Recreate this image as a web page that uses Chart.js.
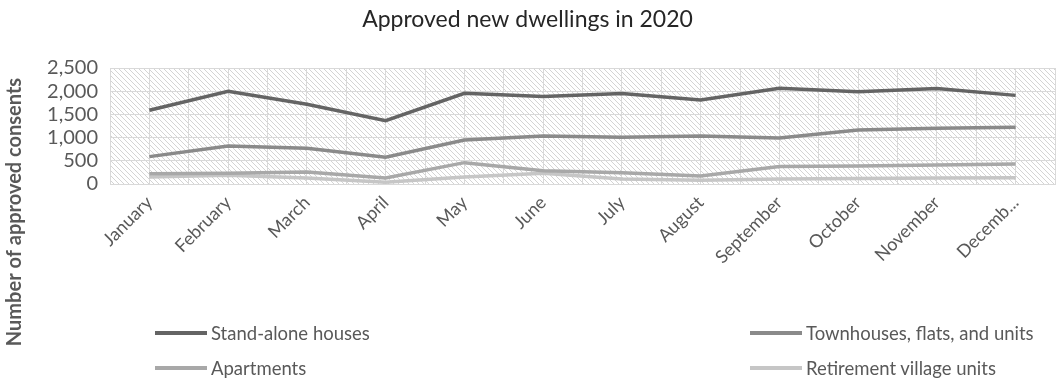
<!DOCTYPE html>
<html>
<head>
<meta charset="utf-8">
<title>Approved new dwellings in 2020</title>
<script src="https://cdn.jsdelivr.net/npm/chart.js"></script>
<style>
  body { margin: 0; background: #fff; }
  #wrap { position: relative; width: 1057px; height: 381px; }
  #legend {
    position: absolute; left: 155px; top: 321px;
    display: grid; grid-template-columns: 595px auto; row-gap: 12px;
    font-family: Lato, sans-serif; font-size: 18.5px; color: #595959;
  }
  .item { display: flex; align-items: center; height: 23px; }
  .swatch { width: 52px; height: 4px; margin-right: 4px; }
</style>
</head>
<body>
<div id="wrap">
  <canvas id="grafik" width="1057" height="381"></canvas>
  <div id="legend"></div>
</div>
<script>
// Veriler (resimden okunan yaklaşık değerler)
const aylar = ['January', 'February', 'March', 'April', 'May', 'June', 'July',
  'August', 'September', 'October', 'November', 'December'];
const ayEtiketleri = ['January', 'February', 'March', 'April', 'May', 'June', 'July',
  'August', 'September', 'October', 'November', 'Decemb...'];
const mustakilEvler = [1590, 2000, 1720, 1365, 1955, 1885, 1950, 1810, 2065, 1990, 2060, 1910];
const siraEvler = [590, 820, 770, 575, 950, 1035, 1005, 1035, 990, 1165, 1200, 1225];
const daireler = [220, 230, 260, 130, 460, 285, 245, 170, 375, 390, 410, 430];
const emekliKoyu = [150, 190, 130, 40, 150, 230, 110, 80, 110, 120, 130, 135];
const yTikleri = [0, 500, 1000, 1500, 2000, 2500];

const gridRengi = '#d9d9d9';
const yaziRengi = '#595959';

// Çizim alanı için çapraz taralı desen
function taramaDeseni() {
  const c = document.createElement('canvas');
  c.width = 5; c.height = 5;
  const g = c.getContext('2d');
  g.fillStyle = '#ffffff';
  g.fillRect(0, 0, 5, 5);
  g.strokeStyle = '#d4d4d4';
  g.lineWidth = 1;
  g.beginPath();
  g.moveTo(-1, -1); g.lineTo(6, 6);
  g.moveTo(-1, 4); g.lineTo(1, 6);
  g.moveTo(4, -1); g.lineTo(6, 1);
  g.stroke();
  return g.createPattern(c, 'repeat');
}

const arkaPlan = {
  id: 'arkaPlan',
  beforeDraw(chart) {
    const { ctx, chartArea: a } = chart;
    ctx.save();
    ctx.fillStyle = taramaDeseni();
    ctx.fillRect(a.left, a.top, a.right - a.left, a.bottom - a.top);
    ctx.restore();
  }
};

// Y ekseni başlığı (grafik alanına değil tüm yüksekliğe ortalanmış)
const yBasligi = {
  id: 'yBasligi',
  afterDraw(chart) {
    const ctx = chart.ctx;
    ctx.save();
    ctx.translate(15, 212);
    ctx.rotate(-Math.PI / 2);
    ctx.font = 'bold 20px Lato, sans-serif';
    ctx.fillStyle = yaziRengi;
    ctx.textAlign = 'center';
    ctx.textBaseline = 'middle';
    ctx.fillText('Number of approved consents', 0, 0);
    ctx.restore();
  }
};

function seri(etiket, veri, renk) {
  return {
    label: etiket, data: veri, borderColor: renk, backgroundColor: renk,
    borderWidth: 3.5, pointRadius: 0, tension: 0, fill: false
  };
}

const ctx = document.getElementById('grafik').getContext('2d');
const grafik = new Chart(ctx, {
  type: 'line',
  data: {
    labels: aylar,
    datasets: [
      seri('Stand-alone houses', mustakilEvler, '#646464'),
      seri('Townhouses, flats, and units', siraEvler, '#8a8a8a'),
      seri('Apartments', daireler, '#a8a8a8'),
      seri('Retirement village units', emekliKoyu, '#c6c6c6')
    ]
  },
  options: {
    responsive: false,
    animation: false,
    layout: { padding: { left: 0, right: 2, top: 0, bottom: 0 } },
    plugins: {
      legend: { display: false },
      tooltip: { enabled: false },
      title: {
        display: true,
        text: 'Approved new dwellings in 2020',
        color: '#262626',
        font: { family: 'Lato, sans-serif', size: 23, weight: 'normal' },
        padding: { top: 6, bottom: 34.4 }
      }
    },
    scales: {
      x: {
        type: 'category',
        offset: true,
        grid: { color: gridRengi, offset: true, drawTicks: false },
        border: { color: gridRengi },
        ticks: {
          color: yaziRengi, font: { family: 'Lato, sans-serif', size: 18 },
          minRotation: 45, maxRotation: 45, padding: 8, autoSkip: false,
          callback: (v, i) => ayEtiketleri[i]
        },
        afterFit(s) { s.height = 197; }
      },
      x2: {
        type: 'category',
        offset: true,
        position: 'bottom',
        grid: { color: gridRengi, offset: false, drawTicks: false },
        border: { display: false },
        ticks: { display: false },
        afterFit(s) { s.height = 0; }
      },
      y: {
        min: 0, max: 2500,
        afterBuildTicks(s) { s.ticks = yTikleri.map(v => ({ value: v })); },
        grid: { color: gridRengi, drawTicks: false },
        border: { display: false },
        ticks: {
          color: yaziRengi, font: { family: 'Lato, sans-serif', size: 20 }, padding: 12,
          autoSkip: false,
          callback: v => v.toLocaleString('en-US')
        },
        afterFit(s) { s.width = 110; }
      }
    }
  },
  plugins: [arkaPlan, yBasligi]
});

// HTML açıklama (iki sütunlu)
const legendDiv = document.getElementById('legend');
grafik.data.datasets.forEach(ds => {
  const item = document.createElement('div');
  item.className = 'item';
  const sw = document.createElement('span');
  sw.className = 'swatch';
  sw.style.background = ds.borderColor;
  const t = document.createElement('span');
  t.textContent = ds.label;
  item.appendChild(sw);
  item.appendChild(t);
  legendDiv.appendChild(item);
});
</script>
</body>
</html>
